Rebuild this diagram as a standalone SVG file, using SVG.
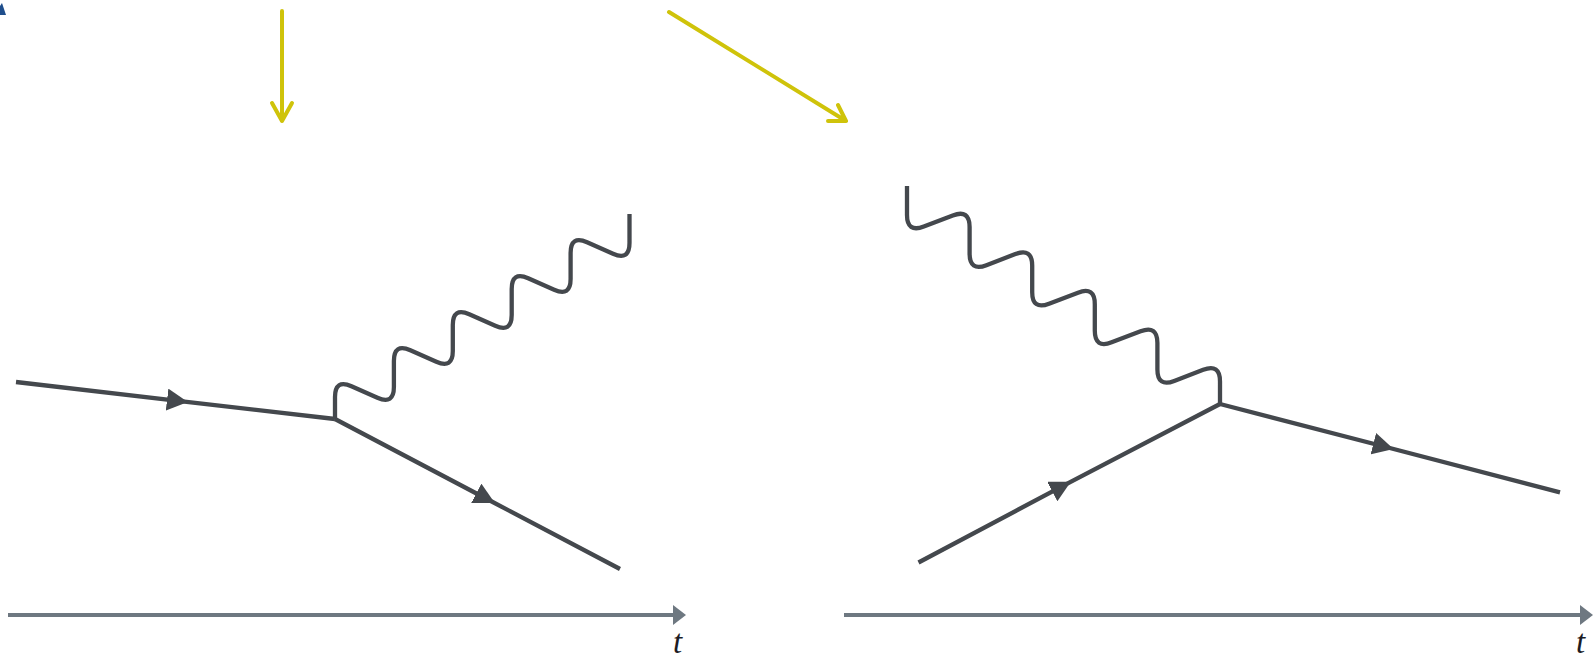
<svg xmlns="http://www.w3.org/2000/svg" width="1595" height="659" viewBox="0 0 1595 659">
<defs>
<style>
.fermion{fill:none;stroke:#44484d;stroke-width:4.3;stroke-linecap:butt;marker-mid:url(#farrow)}
.photon{fill:none;stroke:#44484d;stroke-width:4.3;stroke-linecap:butt;stroke-linejoin:round}
.axis{fill:none;stroke:#6e7881;stroke-width:4;marker-end:url(#axarrow)}
.hint{fill:none;stroke:#cfc30a;stroke-width:4;stroke-linecap:round;stroke-linejoin:round}
.lbl{font-family:"Liberation Serif",serif;font-style:italic;font-size:33px;fill:#1c1c24}
</style>
<marker id="farrow" markerUnits="userSpaceOnUse" markerWidth="22" markerHeight="22" refX="10" refY="10" orient="auto" viewBox="0 0 20 20">
<path d="M0,0 L19,10 L0,20 z" fill="#44484d"/>
</marker>
<marker id="axarrow" markerUnits="userSpaceOnUse" markerWidth="14" markerHeight="22" refX="2" refY="10" orient="auto" viewBox="0 0 14 20">
<path d="M0,0 L13,10 L0,20 z" fill="#6e7881"/>
</marker>
</defs>

<g id="corner-mark">
<polygon points="0,15 6,15 2,3 0,6" fill="#1f4e8c"/>
</g>

<g id="hint-arrows">
<g id="hint-left">
<path class="hint" d="M282 11 L282 121 M272 103 L282 121 L292 103"/>
</g>
<g id="hint-right">
<path class="hint" d="M669 12 L846 121 M838 105 L846 121 L828 121"/>
</g>
</g>

<g id="diagram-left">
<g id="photon-left">
<path class="photon" d="M335 419 L335 397 Q335 379 351.46 386.28 L377.44 397.72 Q393.9 405 393.9 387 L393.9 361 Q393.9 343 410.36 350.28 L436.34 361.72 Q452.8 369 452.8 351 L452.8 325 Q452.8 307 469.26 314.28 L495.24 325.72 Q511.7 333 511.7 315 L511.7 289 Q511.7 271 528.16 278.28 L554.14 289.72 Q570.6 297 570.6 279 L570.6 253 Q570.6 235 587.06 242.28 L613.04 253.72 Q629.5 261 629.5 243 L629.5 214"/>
</g>
<g id="axis-left">
<path class="axis" d="M8 615 L675 615"/>
<text class="lbl" x="673" y="653">t</text>
</g>
</g>

<g id="diagram-right">
<g id="photon-right">
<path class="photon" d="M907 186 L907 215 Q907 233 923.81 226.56 L952.79 215.44 Q969.6 209 969.6 227 L969.6 253.6 Q969.6 271.6 986.41 265.16 L1015.39 254.04 Q1032.2 247.6 1032.2 265.6 L1032.2 292.2 Q1032.2 310.2 1049.01 303.76 L1077.99 292.64 Q1094.8 286.2 1094.8 304.2 L1094.8 330.8 Q1094.8 348.8 1111.61 342.36 L1140.59 331.24 Q1157.4 324.8 1157.4 342.8 L1157.4 369.4 Q1157.4 387.4 1174.21 380.96 L1203.19 369.84 Q1220 363.4 1220 381.4 L1220 404"/>
</g>
<g id="axis-right">
<path class="axis" d="M844 615 L1582 615"/>
<text class="lbl" x="1576" y="653">t</text>
</g>
</g>

<g id="connectors">
<path class="fermion" d="M16 382 L178 400.8 L335 419"/>
<path class="fermion" d="M335 419 L486 498.5 L620 569"/>
<path class="fermion" d="M918.5 562.5 L1062 486.4 L1220 404"/>
<path class="fermion" d="M1220 404 L1384 446.5 L1560 492.3"/>
</g>
</svg>
